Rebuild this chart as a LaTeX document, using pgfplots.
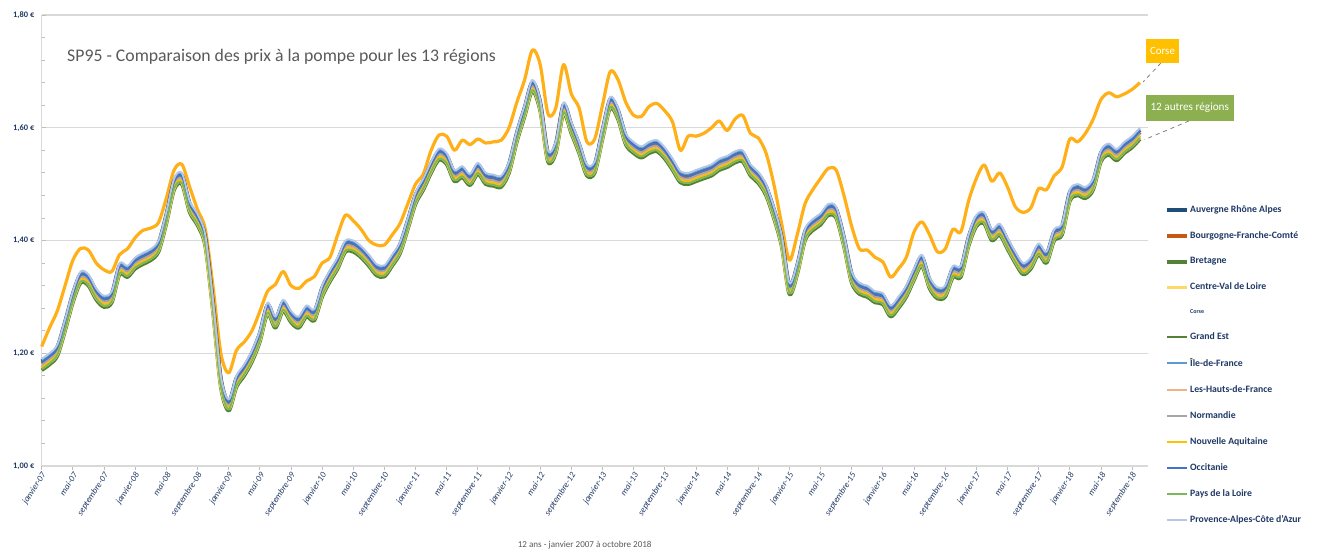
\documentclass[border=0pt]{standalone}
\usepackage{fontspec}
\setmainfont{Carlito}
\usepackage{pgfplots}
\usepackage{pgfplotstable}
\pgfplotsset{compat=1.18}
\definecolor{ara}{HTML}{1F4E79}
\definecolor{bfc}{HTML}{C55A11}
\definecolor{bre}{HTML}{548235}
\definecolor{cvl}{HTML}{FFD966}
\definecolor{ge}{HTML}{548235}
\definecolor{idf}{HTML}{5B9BD5}
\definecolor{hdf}{HTML}{F4B183}
\definecolor{nor}{HTML}{A5A5A5}
\definecolor{naq}{HTML}{FFC000}
\definecolor{occ}{HTML}{4472C4}
\definecolor{pdl}{HTML}{7CB85A}
\definecolor{paca}{HTML}{B4C7E7}
\definecolor{corse}{HTML}{FFB018}
\definecolor{txtblue}{HTML}{1F3864}
\definecolor{gridc}{HTML}{D9D9D9}
\definecolor{titlegray}{HTML}{595959}
\definecolor{boxgreen}{HTML}{8CB050}
\definecolor{boxorange}{HTML}{FFC000}
% prices in thousandths of euro per litre, month index 0 = janvier 2007
\pgfplotstableread{
m cor ara bfc bre cvl ge idf hdf nor naq occ pdl paca
0 1212 1186 1182 1170 1174 1176 1188 1178 1180 1175 1184 1172 1190
1 1245 1196 1192 1180 1184 1186 1198 1188 1190 1185 1194 1182 1200
2 1275 1211 1207 1195 1199 1201 1213 1203 1205 1200 1209 1197 1215
3 1320 1256 1252 1240 1244 1246 1258 1248 1250 1245 1254 1242 1260
4 1365 1306 1302 1290 1294 1296 1308 1298 1300 1295 1304 1292 1310
5 1386 1341 1337 1325 1329 1331 1343 1333 1335 1330 1339 1327 1345
6 1383 1336 1332 1320 1324 1326 1338 1328 1330 1325 1334 1322 1340
7 1360 1311 1307 1295 1299 1301 1313 1303 1305 1300 1309 1297 1315
8 1348 1298 1294 1282 1286 1288 1300 1290 1292 1287 1296 1284 1302
9 1345 1306 1302 1290 1294 1296 1308 1298 1300 1295 1304 1292 1310
10 1375 1356 1352 1340 1344 1346 1358 1348 1350 1345 1354 1342 1360
11 1385 1351 1347 1335 1339 1341 1353 1343 1345 1340 1349 1337 1355
12 1405 1366 1362 1350 1354 1356 1368 1358 1360 1355 1364 1352 1370
13 1418 1374 1370 1358 1362 1364 1376 1366 1368 1363 1372 1360 1378
14 1422 1381 1377 1365 1369 1371 1383 1373 1375 1370 1379 1367 1385
15 1432 1396 1392 1380 1384 1386 1398 1388 1390 1385 1394 1382 1400
16 1475 1446 1442 1430 1434 1436 1448 1438 1440 1435 1444 1432 1450
17 1525 1506 1502 1490 1494 1496 1508 1498 1500 1495 1504 1492 1510
18 1535 1516 1512 1500 1504 1506 1518 1508 1510 1505 1514 1502 1520
19 1495 1466 1462 1450 1454 1456 1468 1458 1460 1455 1464 1452 1470
20 1455 1443 1439 1427 1431 1433 1445 1435 1437 1432 1441 1429 1447
21 1420 1406 1402 1390 1394 1396 1408 1398 1400 1395 1404 1392 1410
22 1318 1289 1285 1273 1277 1279 1291 1281 1283 1278 1287 1275 1293
23 1200 1156 1152 1140 1144 1146 1158 1148 1150 1145 1154 1142 1160
24 1165 1114 1110 1098 1102 1104 1116 1106 1108 1103 1112 1100 1118
25 1205 1156 1152 1140 1144 1146 1158 1148 1150 1145 1154 1142 1160
26 1220 1176 1172 1160 1164 1166 1178 1168 1170 1165 1174 1162 1180
27 1240 1201 1197 1185 1189 1191 1203 1193 1195 1190 1199 1187 1205
28 1274 1236 1232 1220 1224 1226 1238 1228 1230 1225 1234 1222 1240
29 1310 1286 1282 1270 1274 1276 1288 1278 1280 1275 1284 1272 1290
30 1322 1261 1257 1245 1249 1251 1263 1253 1255 1250 1259 1247 1265
31 1345 1291 1287 1275 1279 1281 1293 1283 1285 1280 1289 1277 1295
32 1320 1271 1267 1255 1259 1261 1273 1263 1265 1260 1269 1257 1275
33 1315 1261 1257 1245 1249 1251 1263 1253 1255 1250 1259 1247 1265
34 1328 1281 1277 1265 1269 1271 1283 1273 1275 1270 1279 1267 1285
35 1336 1274 1270 1258 1262 1264 1276 1266 1268 1263 1272 1260 1278
36 1360 1316 1312 1300 1304 1306 1318 1308 1310 1305 1314 1302 1320
37 1370 1343 1339 1327 1331 1333 1345 1335 1337 1332 1341 1329 1347
38 1410 1366 1362 1350 1354 1356 1368 1358 1360 1355 1364 1352 1370
39 1445 1396 1392 1380 1384 1386 1398 1388 1390 1385 1394 1382 1400
40 1435 1396 1392 1380 1384 1386 1398 1388 1390 1385 1394 1382 1400
41 1420 1386 1382 1370 1374 1376 1388 1378 1380 1375 1384 1372 1390
42 1400 1371 1367 1355 1359 1361 1373 1363 1365 1360 1369 1357 1375
43 1392 1354 1350 1338 1342 1344 1356 1346 1348 1343 1352 1340 1358
44 1392 1352 1348 1336 1340 1342 1354 1344 1346 1341 1350 1338 1356
45 1410 1371 1367 1355 1359 1361 1373 1363 1365 1360 1369 1357 1375
46 1430 1393 1389 1377 1381 1383 1395 1385 1387 1382 1391 1379 1397
47 1465 1436 1432 1420 1424 1426 1438 1428 1430 1425 1434 1422 1440
48 1500 1481 1477 1465 1469 1471 1483 1473 1475 1470 1479 1467 1485
49 1518 1506 1502 1490 1494 1496 1508 1498 1500 1495 1504 1492 1510
50 1560 1536 1532 1520 1524 1526 1538 1528 1530 1525 1534 1522 1540
51 1587 1559 1555 1543 1547 1549 1561 1551 1553 1548 1557 1545 1563
52 1585 1551 1547 1535 1539 1541 1553 1543 1545 1540 1549 1537 1555
53 1560 1521 1517 1505 1509 1511 1523 1513 1515 1510 1519 1507 1525
54 1578 1528 1524 1512 1516 1518 1530 1520 1522 1517 1526 1514 1532
55 1570 1514 1510 1498 1502 1504 1516 1506 1508 1503 1512 1500 1518
56 1580 1534 1530 1518 1522 1524 1536 1526 1528 1523 1532 1520 1538
57 1573 1516 1512 1500 1504 1506 1518 1508 1510 1505 1514 1502 1520
58 1575 1513 1509 1497 1501 1503 1515 1505 1507 1502 1511 1499 1517
59 1578 1511 1507 1495 1499 1501 1513 1503 1505 1500 1509 1497 1515
60 1600 1536 1532 1520 1524 1526 1538 1528 1530 1525 1534 1522 1540
61 1645 1591 1587 1575 1579 1581 1593 1583 1585 1580 1589 1577 1595
62 1685 1636 1632 1620 1624 1626 1638 1628 1630 1625 1634 1622 1640
63 1738 1681 1677 1665 1669 1671 1683 1673 1675 1670 1679 1667 1685
64 1712 1646 1642 1630 1634 1636 1648 1638 1640 1635 1644 1632 1650
65 1625 1556 1552 1540 1544 1546 1558 1548 1550 1545 1554 1542 1560
66 1635 1571 1567 1555 1559 1561 1573 1563 1565 1560 1569 1557 1575
67 1712 1641 1637 1625 1629 1631 1643 1633 1635 1630 1639 1627 1645
68 1660 1606 1602 1590 1594 1596 1608 1598 1600 1595 1604 1592 1610
69 1635 1571 1567 1555 1559 1561 1573 1563 1565 1560 1569 1557 1575
70 1575 1531 1527 1515 1519 1521 1533 1523 1525 1520 1529 1517 1535
71 1580 1536 1532 1520 1524 1526 1538 1528 1530 1525 1534 1522 1540
72 1640 1596 1592 1580 1584 1586 1598 1588 1590 1585 1594 1582 1600
73 1700 1651 1647 1635 1639 1641 1653 1643 1645 1640 1649 1637 1655
74 1685 1631 1627 1615 1619 1621 1633 1623 1625 1620 1629 1617 1635
75 1645 1586 1582 1570 1574 1576 1588 1578 1580 1575 1584 1572 1590
76 1622 1571 1567 1555 1559 1561 1573 1563 1565 1560 1569 1557 1575
77 1620 1563 1559 1547 1551 1553 1565 1555 1557 1552 1561 1549 1567
78 1638 1571 1567 1555 1559 1561 1573 1563 1565 1560 1569 1557 1575
79 1643 1574 1570 1558 1562 1564 1576 1566 1568 1563 1572 1560 1578
80 1630 1561 1557 1545 1549 1551 1563 1553 1555 1550 1559 1547 1565
81 1610 1541 1537 1525 1529 1531 1543 1533 1535 1530 1539 1527 1545
82 1560 1519 1515 1503 1507 1509 1521 1511 1513 1508 1517 1505 1523
83 1585 1516 1512 1500 1504 1506 1518 1508 1510 1505 1514 1502 1520
84 1585 1521 1517 1505 1509 1511 1523 1513 1515 1510 1519 1507 1525
85 1590 1526 1522 1510 1514 1516 1528 1518 1520 1515 1524 1512 1530
86 1600 1531 1527 1515 1519 1521 1533 1523 1525 1520 1529 1517 1535
87 1612 1541 1537 1525 1529 1531 1543 1533 1535 1530 1539 1527 1545
88 1595 1546 1542 1530 1534 1536 1548 1538 1540 1535 1544 1532 1550
89 1615 1554 1550 1538 1542 1544 1556 1546 1548 1543 1552 1540 1558
90 1622 1556 1552 1540 1544 1546 1558 1548 1550 1545 1554 1542 1560
91 1590 1531 1527 1515 1519 1521 1533 1523 1525 1520 1529 1517 1535
92 1582 1518 1514 1502 1506 1508 1520 1510 1512 1507 1516 1504 1522
93 1555 1496 1492 1480 1484 1486 1498 1488 1490 1485 1494 1482 1500
94 1500 1456 1452 1440 1444 1446 1458 1448 1450 1445 1454 1442 1460
95 1430 1406 1402 1390 1394 1396 1408 1398 1400 1395 1404 1392 1410
96 1365 1321 1317 1305 1309 1311 1323 1313 1315 1310 1319 1307 1325
97 1410 1356 1352 1340 1344 1346 1358 1348 1350 1345 1354 1342 1360
98 1465 1416 1412 1400 1404 1406 1418 1408 1410 1405 1414 1402 1420
99 1490 1434 1430 1418 1422 1424 1436 1426 1428 1423 1432 1420 1438
100 1510 1444 1440 1428 1432 1434 1446 1436 1438 1433 1442 1430 1448
101 1528 1461 1457 1445 1449 1451 1463 1453 1455 1450 1459 1447 1465
102 1525 1456 1452 1440 1444 1446 1458 1448 1450 1445 1454 1442 1460
103 1480 1406 1402 1390 1394 1396 1408 1398 1400 1395 1404 1392 1410
104 1425 1341 1337 1325 1329 1331 1343 1333 1335 1330 1339 1327 1345
105 1385 1321 1317 1305 1309 1311 1323 1313 1315 1310 1319 1307 1325
106 1383 1316 1312 1300 1304 1306 1318 1308 1310 1305 1314 1302 1320
107 1370 1306 1302 1290 1294 1296 1308 1298 1300 1295 1304 1292 1310
108 1362 1303 1299 1287 1291 1293 1305 1295 1297 1292 1301 1289 1307
109 1335 1281 1277 1265 1269 1271 1283 1273 1275 1270 1279 1267 1285
110 1350 1296 1292 1280 1284 1286 1298 1288 1290 1285 1294 1282 1300
111 1370 1316 1312 1300 1304 1306 1318 1308 1310 1305 1314 1302 1320
112 1415 1346 1342 1330 1334 1336 1348 1338 1340 1335 1344 1332 1350
113 1433 1371 1367 1355 1359 1361 1373 1363 1365 1360 1369 1357 1375
114 1410 1331 1327 1315 1319 1321 1333 1323 1325 1320 1329 1317 1335
115 1380 1313 1309 1297 1301 1303 1315 1305 1307 1302 1311 1299 1317
116 1385 1316 1312 1300 1304 1306 1318 1308 1310 1305 1314 1302 1320
117 1420 1351 1347 1335 1339 1341 1353 1343 1345 1340 1349 1337 1355
118 1415 1351 1347 1335 1339 1341 1353 1343 1345 1340 1349 1337 1355
119 1470 1406 1402 1390 1394 1396 1408 1398 1400 1395 1404 1392 1410
120 1510 1441 1437 1425 1429 1431 1443 1433 1435 1430 1439 1427 1445
121 1534 1446 1442 1430 1434 1436 1448 1438 1440 1435 1444 1432 1450
122 1505 1416 1412 1400 1404 1406 1418 1408 1410 1405 1414 1402 1420
123 1520 1426 1422 1410 1414 1416 1428 1418 1420 1415 1424 1412 1430
124 1495 1401 1397 1385 1389 1391 1403 1393 1395 1390 1399 1387 1405
125 1460 1376 1372 1360 1364 1366 1378 1368 1370 1365 1374 1362 1380
126 1450 1356 1352 1340 1344 1346 1358 1348 1350 1345 1354 1342 1360
127 1458 1366 1362 1350 1354 1356 1368 1358 1360 1355 1364 1352 1370
128 1492 1391 1387 1375 1379 1381 1393 1383 1385 1380 1389 1377 1395
129 1490 1376 1372 1360 1364 1366 1378 1368 1370 1365 1374 1362 1380
130 1515 1416 1412 1400 1404 1406 1418 1408 1410 1405 1414 1402 1420
131 1530 1426 1422 1410 1414 1416 1428 1418 1420 1415 1424 1412 1430
132 1580 1486 1482 1470 1474 1476 1488 1478 1480 1475 1484 1472 1490
133 1575 1496 1492 1480 1484 1486 1498 1488 1490 1485 1494 1482 1500
134 1590 1491 1487 1475 1479 1481 1493 1483 1485 1480 1489 1477 1495
135 1615 1506 1502 1490 1494 1496 1508 1498 1500 1495 1504 1492 1510
136 1650 1556 1552 1540 1544 1546 1558 1548 1550 1545 1554 1542 1560
137 1662 1568 1564 1552 1556 1558 1570 1560 1562 1557 1566 1554 1572
138 1655 1558 1554 1542 1546 1548 1560 1550 1552 1547 1556 1544 1562
139 1660 1571 1567 1555 1559 1561 1573 1563 1565 1560 1569 1557 1575
140 1668 1581 1577 1565 1569 1571 1583 1573 1575 1570 1579 1567 1585
141 1680 1596 1592 1580 1584 1586 1598 1588 1590 1585 1594 1582 1600
}\data
\begin{document}
\begin{tikzpicture}
\useasboundingbox (-31.28pt,-69pt) rectangle (956.5pt,349.5pt);
\begin{axis}[
  at={(0,0)}, anchor=south west,
  width=829.5pt, height=338.25pt, scale only axis,
  xmin=0, xmax=142, ymin=1000, ymax=1800,
  clip=false,
  axis x line*=bottom, axis y line*=left,
  axis line style={draw=gridc, line width=0.8pt},
  ymajorgrids, grid style={draw=gridc, line width=0.9pt},
  ytick={1000,1200,1400,1600,1800},
  yticklabels={{1,00 €},{1,20 €},{1,40 €},{1,60 €},{1,80 €}},
  minor y tick num=4,
  ytick align=inside, xtick align=outside,
  major tick length=3pt, minor tick length=2.5pt,
  tick style={draw=gridc!70!gray, line width=0.6pt},
  yticklabel style={font=\bfseries\fontsize{6.3}{7}\selectfont, text=txtblue, xshift=-2pt},
  xtick={0,4,...,140},
  xticklabels={janvier-07,mai-07,septembre-07,janvier-08,mai-08,septembre-08,janvier-09,mai-09,septembre-09,janvier-10,mai-10,septembre-10,janvier-11,mai-11,septembre-11,janvier-12,mai-12,septembre-12,janvier-13,mai-13,septembre-13,janvier-14,mai-14,septembre-14,janvier-15,mai-15,septembre-15,janvier-16,mai-16,septembre-16,janvier-17,mai-17,septembre-17,janvier-18,mai-18,septembre-18},
  xticklabel style={rotate=57, anchor=east, font=\itshape\fontsize{6.6}{7}\selectfont, text=txtblue, inner sep=1pt, yshift=-3pt},
  legend style={at={(axis description cs:1.0155,0.581)}, anchor=north west, draw=none, fill=none,
    font=\bfseries\fontsize{7.3}{8}\selectfont, text=txtblue, row sep=10.9pt, inner sep=0pt,
    nodes={inner sep=1pt}},
  legend cell align=left,
  legend image code/.code={\draw[#1] (0pt,0pt) -- (15pt,0pt);},
  every axis plot/.append style={smooth, tension=0.5, line join=round},
]
\addplot[corse, line width=2.4pt, forget plot] table[x=m,y=cor]{\data};
\addplot[ara, line width=2.8pt] table[x=m,y=ara]{\data};
\addlegendentry{Auvergne Rhône Alpes}
\addplot[bfc, line width=2.8pt] table[x=m,y=bfc]{\data};
\addlegendentry{Bourgogne-Franche-Comté}
\addplot[bre, line width=2.8pt] table[x=m,y=bre]{\data};
\addlegendentry{Bretagne}
\addplot[cvl, line width=2.8pt] table[x=m,y=cvl]{\data};
\addlegendentry{Centre-Val de Loire}
\addlegendimage{empty legend}
\addlegendentry{\fontsize{4.5}{5}\selectfont Corse}
\addplot[ge, line width=1.4pt] table[x=m,y=ge]{\data};
\addlegendentry{Grand Est}
\addplot[idf, line width=1.4pt] table[x=m,y=idf]{\data};
\addlegendentry{Île-de-France}
\addplot[hdf, line width=1.4pt] table[x=m,y=hdf]{\data};
\addlegendentry{Les-Hauts-de-France}
\addplot[nor, line width=1.4pt] table[x=m,y=nor]{\data};
\addlegendentry{Normandie}
\addplot[naq, line width=1.4pt] table[x=m,y=naq]{\data};
\addlegendentry{Nouvelle Aquitaine}
\addplot[occ, line width=1.4pt] table[x=m,y=occ]{\data};
\addlegendentry{Occitanie}
\addplot[pdl, line width=1.4pt] table[x=m,y=pdl]{\data};
\addlegendentry{Pays de la Loire}
\addplot[paca, line width=1.4pt] table[x=m,y=paca]{\data};
\addlegendentry{Provence-Alpes-Côte d'Azur}
% annotations
\draw[gray, dashed, line width=0.6pt] (axis cs:143.7,1715) -- (axis cs:141.4,1681);
\draw[gray, dashed, line width=0.6pt] (axis cs:147.3,1612) -- (axis cs:141.6,1579);
\node[fill=boxorange, text=white, minimum width=24.75pt, minimum height=18pt, inner sep=1pt, font=\fontsize{8.2}{9}\selectfont] at (axis cs:143.9,1736) {Corse};
\node[fill=boxgreen, text=white, minimum width=66pt, minimum height=19.5pt, inner sep=1pt, font=\fontsize{8.4}{9}\selectfont] at (axis cs:147.4,1635) {12 autres régions};
\node[text=titlegray, font=\fontsize{13.3}{15}\selectfont, anchor=center] at (axis cs:30.8,1726) {SP95 - Comparaison des prix à la pompe pour les 13 régions};
\node[text=titlegray, font=\fontsize{6.8}{8}\selectfont] at (axis description cs:0.491,-0.175) {12 ans - janvier 2007 à octobre 2018};
\end{axis}
\end{tikzpicture}
\end{document}
